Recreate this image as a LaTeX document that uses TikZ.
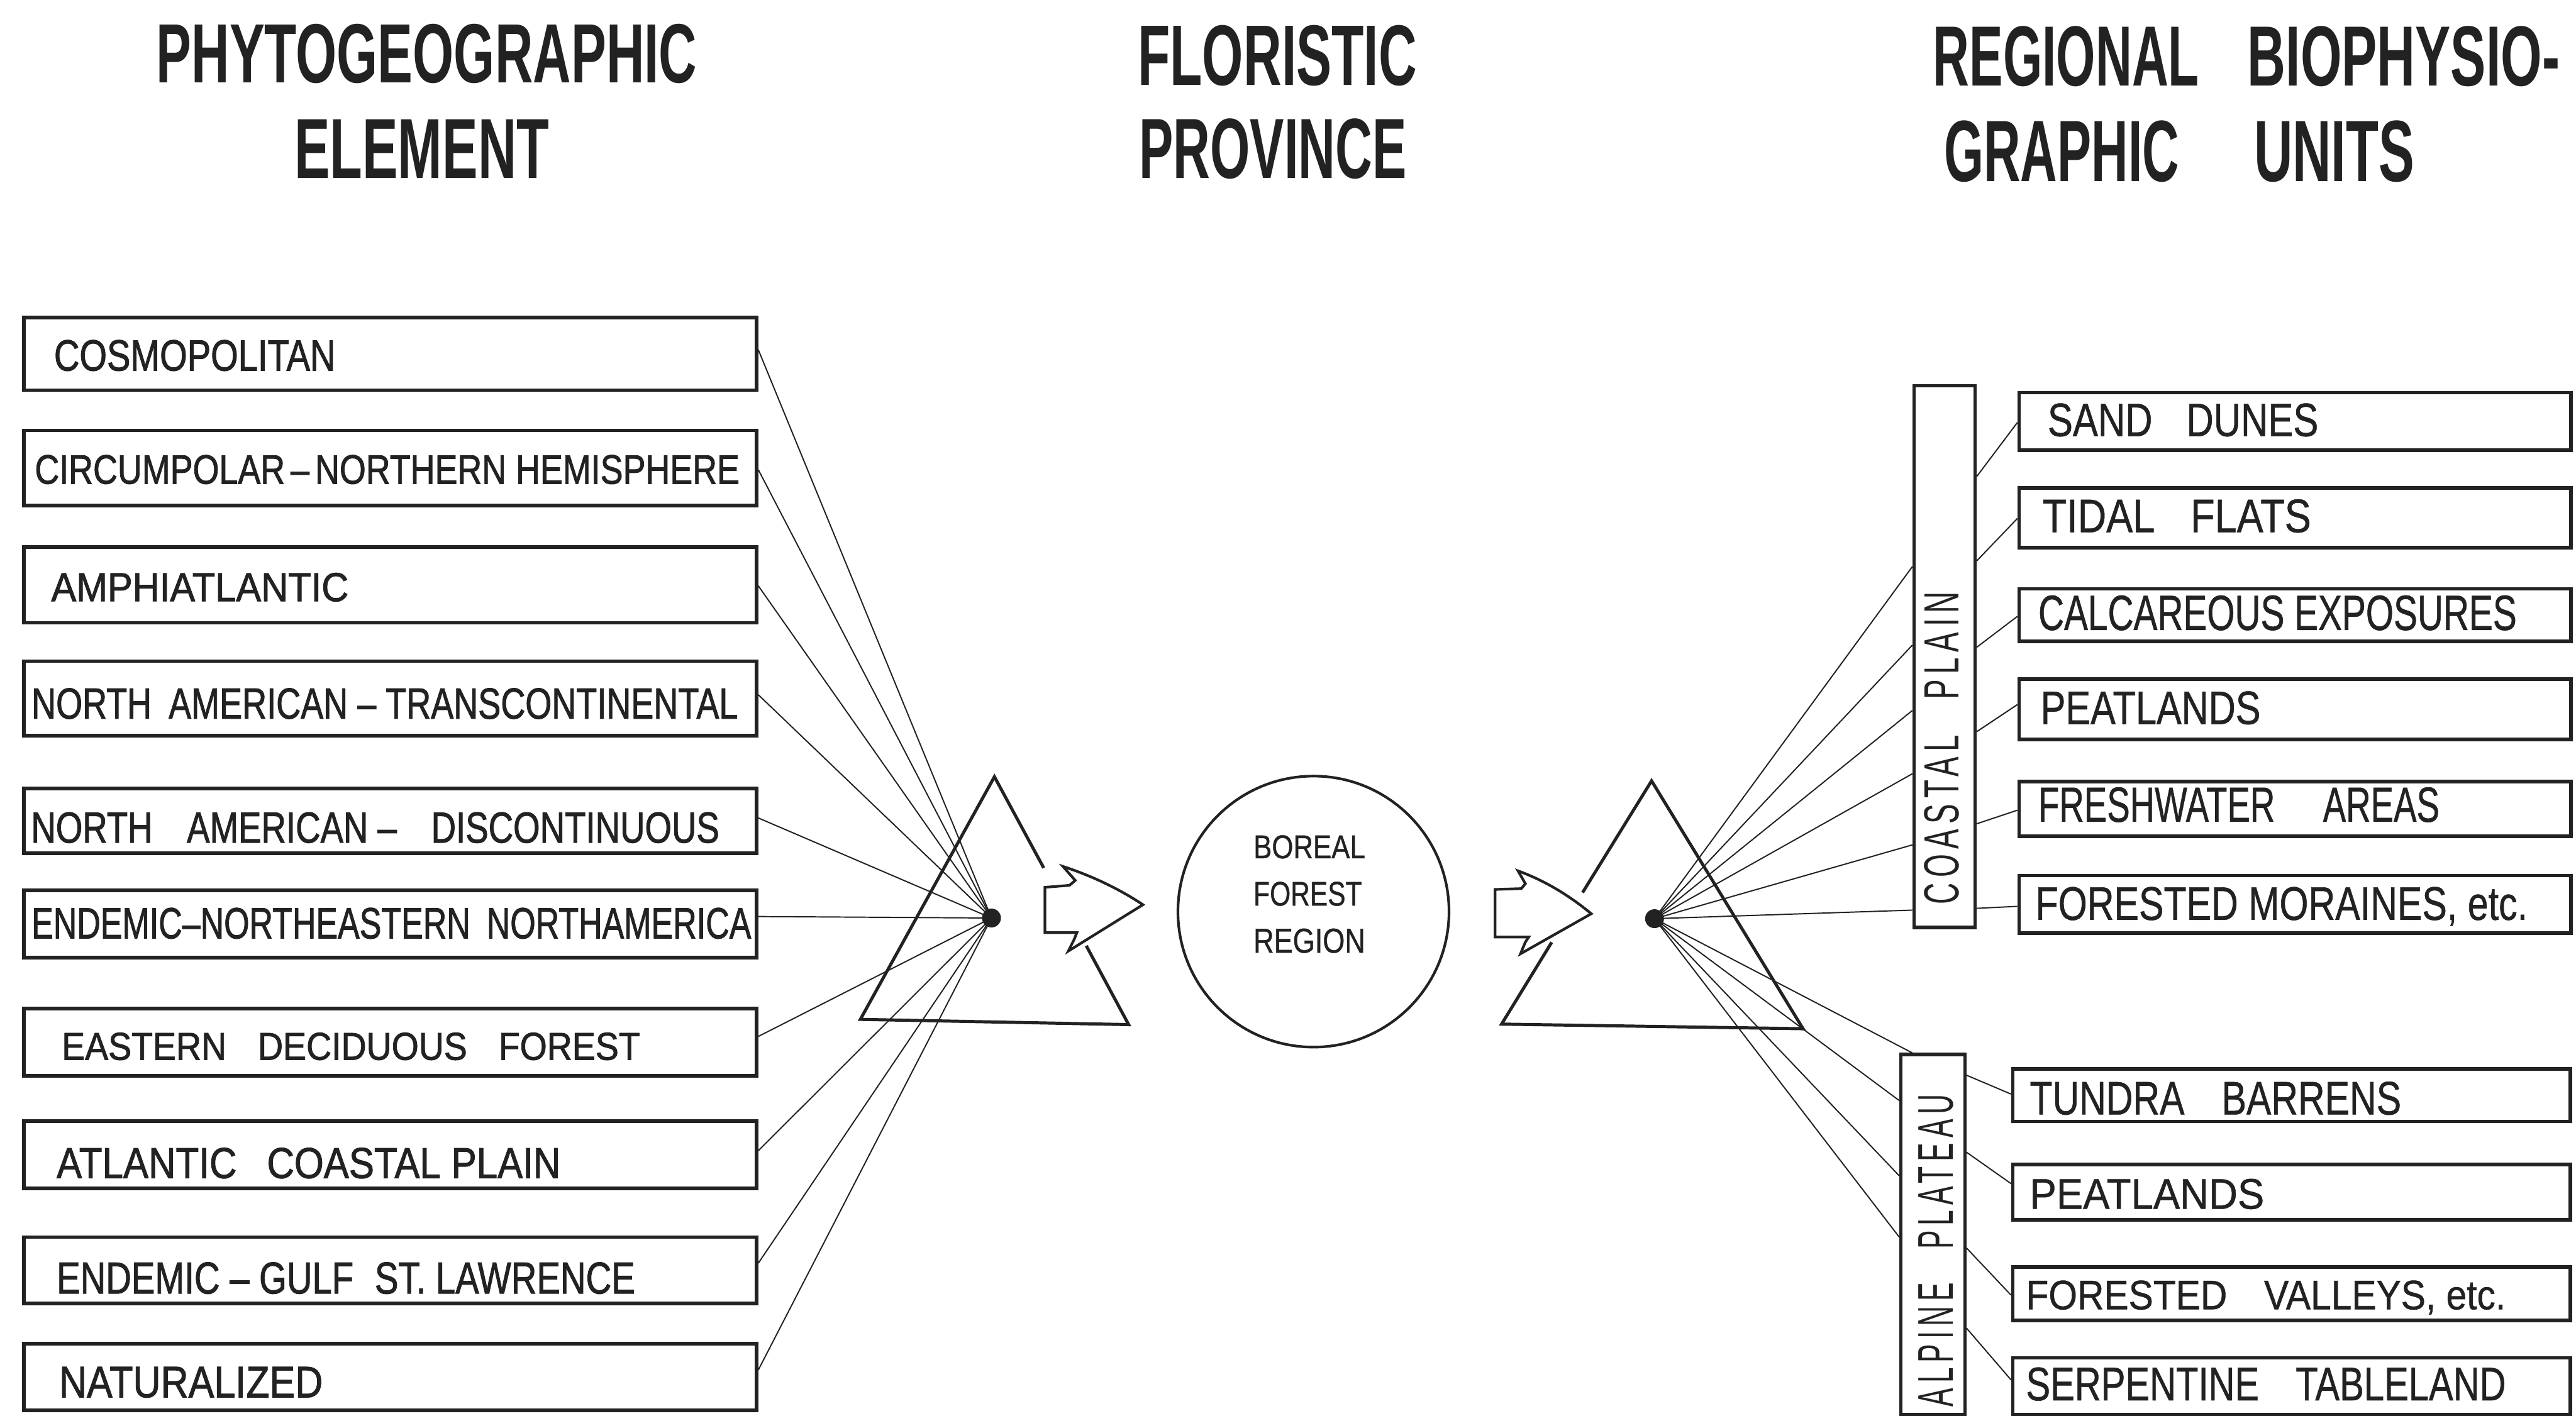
\documentclass[tikz,border=0pt]{standalone}
\usepackage{fontspec}
\usepackage{graphicx}
\setmainfont{Liberation Sans}
\newfontfamily\lblfont[FakeBold=0.8]{Liberation Sans}
\newfontfamily\lblfontL[FakeBold=1.5]{Liberation Sans}
\newfontfamily\spfont[LetterSpace=18]{Liberation Sans}
\newcommand\rsz[3]{\resizebox{#1pt}{#2pt}{#3}}
\definecolor{ink}{RGB}{34,34,34}
\begin{document}
\begin{tikzpicture}[x=1pt,y=-1pt,line join=miter,
  box/.style={draw=ink,line width=2.2pt,inner sep=0pt,rectangle},
  bar/.style={draw=ink,line width=2pt,inner sep=0pt,rectangle},
  lbl/.style={inner sep=0pt,text=ink,font=\lblfont},
  lblL/.style={inner sep=0pt,text=ink,font=\lblfontL,anchor=base west},
  ttl/.style={inner sep=0pt,text=ink,font=\bfseries,anchor=base west},
  fan/.style={draw=ink,line width=0.75pt},
  tri/.style={draw=ink,line width=1.9pt},
  blk/.style={draw=ink,line width=1.6pt,fill=white},
  dot/.style={circle,fill=ink,inner sep=0pt,minimum size=11.5pt}]
\useasboundingbox (0,0) rectangle (1568,862);
\fill[white] (0,0) rectangle (1568,862);

% ---- titles
\node[ttl] (h1) at (95,50.3) {\rsz{329}{35.7}{PHYTOGEOGRAPHIC}};
\node[ttl] (h2) at (179,108.6) {\rsz{155}{35.7}{ELEMENT}};
\node[ttl] (h3) at (692.4,52) {\rsz{169.8}{36.5}{FLORISTIC}};
\node[ttl] (h4) at (693.2,108.6) {\rsz{162.8}{36.3}{PROVINCE}};
\node[ttl] (h5) at (1176.4,52.4) {\rsz{162}{36.3}{REGIONAL}\hspace{29.4pt}\rsz{190.1}{36.3}{BIOPHYSIO-}};
\node[ttl] (h6) at (1183.1,110.4) {\rsz{143.2}{37}{GRAPHIC}\hspace{45.5pt}\rsz{97.7}{37}{UNITS}};

% ---- left boxes
\node[box,minimum width=446,minimum height=44.2] (b1) at (237.5,215.4) {};
\node[box,minimum width=446,minimum height=45.7] (b2) at (237.5,284.85) {};
\node[box,minimum width=446,minimum height=46.3] (b3) at (237.5,356.05) {};
\node[box,minimum width=446,minimum height=45.5] (b4) at (237.5,425.25) {};
\node[box,minimum width=446,minimum height=39.6] (b5) at (237.5,499.8) {};
\node[box,minimum width=446,minimum height=41] (b6) at (237.5,562.5) {};
\node[box,minimum width=446,minimum height=40.8] (b7) at (237.5,634.5) {};
\node[box,minimum width=446,minimum height=40.8] (b8) at (237.5,703) {};
\node[box,minimum width=446,minimum height=40.4] (b9) at (237.5,773.4) {};
\node[box,minimum width=446,minimum height=40.4] (b10) at (237.5,838.4) {};

\node[lblL] (t1) at (32.7,225.6) {\rsz{171.3}{18.6}{COSMOPOLITAN}};
\node[lblL] (t2) at (21,294.5) {\rsz{429}{17.5}{CIRCUMPOLAR\,–\,NORTHERN HEMISPHERE}};
\node[lblL] (t3) at (31,366) {\rsz{181}{17.2}{AMPHIATLANTIC}};
\node[lblL] (t4) at (19,437.5) {\rsz{430}{18.5}{NORTH\hspace{0.5em}AMERICAN – TRANSCONTINENTAL}};
\node[lblL] (t5) at (18.7,513) {\rsz{419}{18.5}{NORTH\hspace{1em}AMERICAN –\hspace{1em}DISCONTINUOUS}};
\node[lblL] (t6) at (19,571.3) {\rsz{438}{18.6}{ENDEMIC–NORTHEASTERN\hspace{0.5em}NORTHAMERICA}};
\node[lblL] (t7) at (37.4,645.2) {\rsz{352}{16.5}{EASTERN\hspace{0.9em}DECIDUOUS\hspace{0.9em}FOREST}};
\node[lblL] (t8) at (34.3,717.2) {\rsz{306.7}{18.4}{ATLANTIC\hspace{0.8em}COASTAL PLAIN}};
\node[lblL] (t9) at (34.3,787.5) {\rsz{352}{19}{ENDEMIC – GULF\hspace{0.6em}ST. LAWRENCE}};
\node[lblL] (t10) at (35.8,850.7) {\rsz{160.5}{18.5}{NATURALIZED}};

% ---- hubs
\coordinate (hl) at (603.5,558.9);
\coordinate (hr) at (1007.1,559.3);

% ---- right bars
\node[bar,minimum width=37.3,minimum height=329.6] (cp) at (1183.65,399.8) {};
\node[bar,minimum width=39,minimum height=219] (ap) at (1176.5,751.5) {};
\node[lbl,font=\spfont,rotate=90] (cpt) at (1182,455.4) {\rsz{190.5}{21}{COASTAL\hspace{1.2em}PLAIN}};
\node[lbl,font=\spfont,rotate=90] (apt) at (1178.5,761.3) {\rsz{190.3}{21}{ALPINE\hspace{1.2em}PLATEAU}};

% ---- right boxes
\node[box,minimum width=336,minimum height=35] (r1) at (1397,256.6) {};
\node[box,minimum width=336,minimum height=36.3] (r2) at (1397,315.15) {};
\node[box,minimum width=336,minimum height=32] (r3) at (1397,374.5) {};
\node[box,minimum width=336,minimum height=36.7] (r4) at (1397,431.75) {};
\node[box,minimum width=336,minimum height=33.4] (r5) at (1397,492.5) {};
\node[box,minimum width=336,minimum height=35] (r6) at (1397,550.6) {};
\node[box,minimum width=339.4,minimum height=31.9] (r7) at (1394.9,666.75) {};
\node[box,minimum width=339.4,minimum height=33.5] (r8) at (1394.9,725.85) {};
\node[box,minimum width=339.4,minimum height=32.5] (r9) at (1394.9,787.55) {};
\node[box,minimum width=339.4,minimum height=34.4] (r10) at (1394.9,843.9) {};

\node[lbl,anchor=base west] (s1) at (1246.2,265.5) {\rsz{164.8}{19.9}{SAND\hspace{0.9em}DUNES}};
\node[lbl,anchor=base west] (s2) at (1243,324) {\rsz{163.5}{20}{TIDAL\hspace{0.9em}FLATS}};
\node[lbl,anchor=base west] (s3) at (1240.5,383.5) {\rsz{291.2}{21}{CALCAREOUS EXPOSURES}};
\node[lbl,anchor=base west] (s4) at (1241.9,440.8) {\rsz{133.9}{19.9}{PEATLANDS}};
\node[lbl,anchor=base west] (s5) at (1240.5,500.3) {\rsz{244.2}{21}{FRESHWATER\hspace{1.4em}AREAS}};
\node[lbl,anchor=base west] (s6) at (1238.8,560) {\rsz{299.5}{20}{FORESTED MORAINES, etc.}};
\node[lbl,anchor=base west] (s7) at (1235.3,678.5) {\rsz{226.1}{20}{TUNDRA\hspace{1em}BARRENS}};
\node[lbl,anchor=base west] (s8) at (1235.3,735.9) {\rsz{142.7}{18.2}{PEATLANDS}};
\node[lbl,anchor=base west] (s9) at (1233,797.1) {\rsz{292}{17.5}{FORESTED\hspace{1em}VALLEYS, etc.}};
\node[lbl,anchor=base west] (s10) at (1233,852.5) {\rsz{292.1}{20}{SERPENTINE\hspace{1em}TABLELAND}};

% ---- fan lines (left)
\foreach \n/\yy in {b1/213,b2/286,b3/356.7,b4/423,b5/498,b6/558,b7/631,b8/700.5,b9/769,b10/834}
  \draw[fan] (\n.east |- 0,\yy) -- (hl);
% ---- fan lines (right)
\foreach \yy in {345,392.8,432.6,471.1,514.4,554.1}
  \draw[fan] (hr) -- (cp.west |- 0,\yy);
\draw[fan] (hr) -- ([xshift=8pt]ap.north west);
\foreach \yy in {670,715.8,753.1}
  \draw[fan] (hr) -- (ap.west |- 0,\yy);
% ---- bar to box connectors
\draw[fan] (cp.east |- 0,290) -- (r1.west |- 0,257.3);
\draw[fan] (cp.east |- 0,341.4) -- (r2.west |- 0,315.7);
\draw[fan] (cp.east |- 0,394) -- (r3.west |- 0,375.3);
\draw[fan] (cp.east |- 0,445.4) -- (r4.west |- 0,429);
\draw[fan] (cp.east |- 0,501.5) -- (r5.west |- 0,493.3);
\draw[fan] (cp.east |- 0,553) -- (r6.west |- 0,551.8);
\draw[fan] (ap.east |- 0,654.6) -- (r7.west |- 0,666.1);
\draw[fan] (ap.east |- 0,701.5) -- (r8.west |- 0,720.6);
\draw[fan] (ap.east |- 0,759.8) -- (r9.west |- 0,788.5);
\draw[fan] (ap.east |- 0,808.6) -- (r10.west |- 0,840.1);

% ---- triangles
\draw[tri] (635.3,528.4) -- (605.3,472.9) -- (523.7,620.6) -- (687,623.8) -- (661.2,575.8);
\draw[tri] (963.3,543.4) -- (1005.3,475.4) -- (1097.5,626.3) -- (914,623.5) -- (944.5,573.7);

% ---- block arrows
\draw[blk] (636,540.2) -- (651,539) -- (654.5,536) -- (647,527.5)
  .. controls (664,533) and (681,541) .. (695.7,550.8)
  -- (650.3,579) -- (653.8,572) -- (655.5,567.8) -- (636,567.8) -- cycle;
\draw[blk] (910,541.5) -- (926,541) -- (928.5,538) -- (924,530.2)
  .. controls (940,536) and (955,545) .. (968.6,556.3)
  -- (925.5,580.7) -- (928.5,573.5) -- (930.5,570.5) -- (910,570.5) -- cycle;

% ---- hub dots
\node[dot] (hubL) at (hl) {};
\node[dot] (hubR) at (hr) {};

% ---- central circle
\node[draw=ink,circle,line width=1.6pt,minimum size=165,inner sep=0pt] (reg) at (799.5,555) {};
\node[lbl,anchor=base] (reg1) at (797,522.5) {\rsz{68}{14}{BOREAL}};
\node[lbl,anchor=base] (reg2) at (796,551.3) {\rsz{66}{14.5}{FOREST}};
\node[lbl,anchor=base] (reg3) at (797,580) {\rsz{68}{14.7}{REGION}};
\end{tikzpicture}
\end{document}
